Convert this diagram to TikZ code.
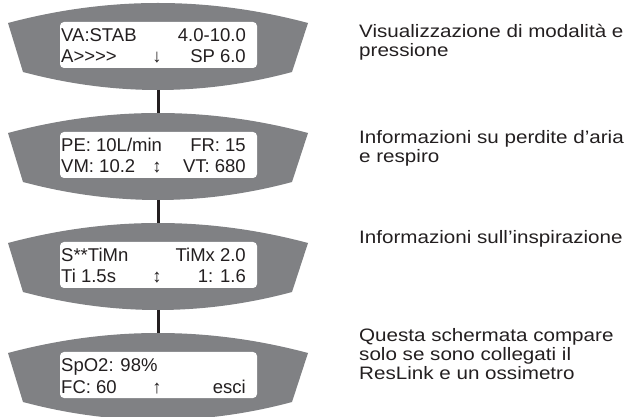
\documentclass[tikz,border=0pt]{standalone}
\usepackage{fontspec}
\setmainfont{Liberation Sans}
\newfontfamily\descfont[FakeStretch=1.145]{Liberation Sans}
\definecolor{dispgray}{RGB}{128,129,132}
\definecolor{ink}{RGB}{35,31,32}
\tikzset{
  screen/.style={fill=white, rounded corners=4pt, minimum width=197pt, minimum height=46pt, inner sep=0pt},
  lcd/.style={font=\fontsize{18.5}{18.5}\selectfont, text=ink, inner sep=0pt},
  desc/.style={font=\descfont\fontsize{18}{19}\selectfont, text=ink, inner sep=0pt, anchor=base west},
  link/.style={draw=ink, line width=3pt},
}
\newcommand\lcdpanel[7]{%
  \begin{scope}[shift={(0,#2)}]
    \fill[dispgray] (8,23) .. controls (108,-3.67) and (208,-3.67) .. (308,23)
      -- (292,72) .. controls (202.7,96) and (113.3,96) .. (23,72) -- cycle;
    \coordinate (#1top) at (158,3);
    \coordinate (#1bot) at (158,90);
    \node[screen] (#1scr) at (158.5,45) {};
    \node[lcd, anchor=base west] (#1a) at (61,42) {#3};
    \node[lcd, anchor=base east] (#1b) at (246,42) {#4};
    \node[lcd, anchor=base west] (#1c) at (61,63) {#5};
    \node[lcd, anchor=base] (#1d) at (157,63) {#6};
    \node[lcd, anchor=base east] (#1e) at (246,63) {#7};
  \end{scope}}
\begin{document}
\begin{tikzpicture}[x=1pt,y=-1pt]
  \useasboundingbox (0,0) rectangle (633,417);
  \clip (0,0) rectangle (633,417);
  \lcdpanel{p1}{0}{VA:STAB}{4.0-10.0}{A{>}{>}{>}{>}}{↓}{SP 6.0}
  \lcdpanel{p2}{110}{PE: 10L/min}{FR: 15}{VM: 10.2}{↕}{VT: 680}
  \lcdpanel{p3}{220}{S**TiMn}{TiMx 2.0}{Ti 1.5s}{↕}{1: 1.6}
  \lcdpanel{p4}{330}{SpO2: 98\%}{}{FC: 60}{↑}{esci}
  \draw[link] (p1bot) -- (p2top);
  \draw[link] (p2bot) -- (p3top);
  \draw[link] (p3bot) -- (p4top);
  \node[desc] (t1a) at (359,37.7) {Visualizzazione di modalità e};
  \node[desc] (t1b) at (359,56.7) {pressione};
  \node[desc] (t2a) at (359,143.3) {Informazioni su perdite d’aria};
  \node[desc] (t2b) at (359,162.3) {e respiro};
  \node[desc] (t3) at (359,243.3) {Informazioni sull’inspirazione};
  \node[desc] (t4a) at (359,341.7) {Questa schermata compare};
  \node[desc] (t4b) at (359,360.7) {solo se sono collegati il};
  \node[desc] (t4c) at (359,379.7) {ResLink e un ossimetro};
\end{tikzpicture}
\end{document}
